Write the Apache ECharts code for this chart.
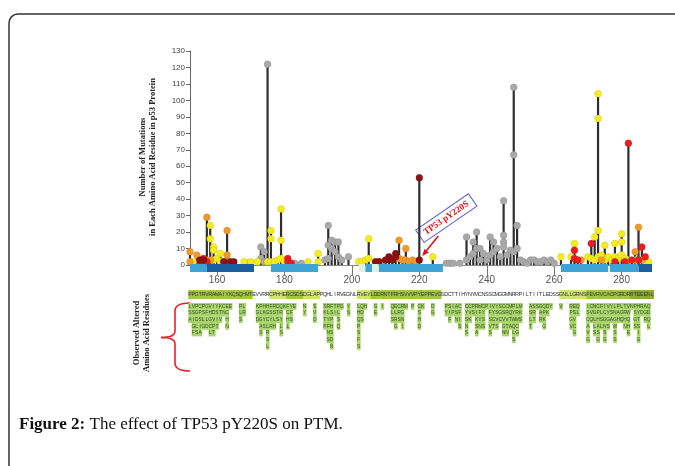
<!DOCTYPE html>
<html>
<head>
<meta charset="utf-8">
<script src="https://cdn.jsdelivr.net/npm/echarts@6/dist/echarts.min.js"></script>
<style>
  html, body { margin: 0; padding: 0; background: #fff; }
  #chart { width: 675px; height: 466px; }
</style>
</head>
<body>
<div id="chart"></div>
<script>
// residue window shown (p53 DNA binding domain)
const xMin = 152, xMax = 289;
const xTicks = [160, 180, 200, 220, 240, 260, 280];
const yMax = 130, yStep = 10;

// mutation counts per residue, one array per colour class  [residue, count]
const grayDots = [
  [169, 1], [173, 11], [173, 4], [174, 8], [174, 2], [175, 122], [175, 2], [183, 1], [185, 1],
  [192, 3], [193, 24], [193, 12], [193, 4], [194, 15], [194, 10], [195, 14], [195, 8], [196, 14], [196, 5],
  [197, 3], [199, 5], [228, 1], [229, 1], [230, 1], [232, 1], [234, 17], [234, 3], [235, 5],
  [236, 14], [236, 7], [237, 20], [237, 10], [238, 10], [238, 3], [239, 7], [240, 3], [241, 17], [241, 6],
  [242, 14], [242, 8], [243, 10], [244, 5], [245, 39], [245, 18], [245, 14], [245, 11], [246, 6], [247, 9],
  [248, 108], [248, 67], [248, 8], [249, 24], [249, 10], [250, 3], [251, 2], [252, 1], [253, 3], [254, 3],
  [255, 2], [256, 2], [257, 3], [258, 2], [259, 3], [260, 1]
];
const yellowDots = [
  [153, 2], [158, 24], [158, 16], [159, 11], [159, 9], [159, 3], [160, 4], [161, 7], [161, 2], [168, 2],
  [170, 2], [172, 2], [175, 2], [176, 21], [176, 16], [176, 2], [177, 2], [178, 3], [179, 34], [179, 15],
  [179, 4], [180, 2], [187, 2], [190, 7], [190, 2], [202, 2], [203, 2], [204, 3], [205, 16], [205, 4],
  [224, 5], [262, 5], [265, 5], [266, 13], [270, 5], [271, 4], [272, 17], [272, 3], [273, 104], [273, 89],
  [273, 21], [273, 5], [274, 6], [275, 12], [275, 3], [276, 5], [277, 3], [278, 13], [278, 5], [279, 4],
  [280, 19], [280, 14], [280, 6], [281, 4], [282, 3], [284, 3], [287, 2], [288, 2]
];
const orangeDots = [
  [152, 8], [152, 2], [154, 6], [157, 29], [157, 3], [158, 3], [162, 2], [163, 21], [163, 6], [163, 2],
  [208, 2], [209, 2], [214, 15], [214, 4], [215, 3], [216, 10], [216, 3], [217, 2], [218, 3], [219, 2],
  [268, 3], [274, 3], [284, 8], [285, 23], [286, 3]
];
const redDots = [
  [155, 2], [156, 4], [157, 2], [181, 4], [181, 2], [182, 1], [266, 9], [266, 4], [267, 3], [271, 13],
  [278, 2], [281, 2], [282, 74], [283, 3], [285, 3], [286, 11], [287, 5]
];
const darkRedDots = [
  [155, 3], [156, 3], [162, 2], [164, 2], [165, 2], [207, 2], [208, 2], [210, 3], [211, 5], [212, 3],
  [213, 7], [213, 5], [220, 53], [220, 3]
];

// structural segments under the axis
const domStart = [152, 157, 176, 202, 204, 206, 208, 262, 276.5, 285];
const domEnd   = [157, 171, 190, 204, 206, 208, 227, 276, 285, 289];
const domKind  = ['strand', 'loop', 'strand', 'pale', 'strand', 'pale', 'strand', 'strand', 'strand', 'loop'];

// p53 residues 152-289
const seqText = 'PPGTRVRAMAIYKQSQHMTEVVRRCPHHERCSDSDGLAPPQHLIRVEGNLRVEYLDDRNTFRHSVVVPYEPPEVGSDCTTIHYNYMCNSSCMGGMNRRPILTIITLEDSSGNLLGRNSFEVRVCACPGRDRRTEEENL';
const hlStart = [152, 176, 181, 186, 202, 206, 262, 270, 283];
const hlEnd   = [171, 181, 186, 191, 206, 227, 270, 283, 289];
const hlKind  = ['dark', 'light', 'dark', 'light', 'light', 'dark', 'light', 'dark', 'deep'];

// observed altered residues at each position (top to bottom)
const altPos = [152, 153, 154, 155, 156, 157, 158, 159, 160, 161, 162, 163, 164, 167, 168,
  172, 173, 174, 175, 176, 177, 178, 179, 180, 181, 182, 183, 186, 189,
  192, 193, 194, 195, 196, 197, 199, 202, 203, 204, 207, 209, 212, 213, 214, 215, 216, 218,
  220, 221, 224, 228, 229, 230, 231, 232, 234, 235, 236, 237, 238, 239, 240, 241, 242, 243, 244,
  245, 246, 247, 248, 249, 250, 253, 254, 255, 256, 257, 258, 259, 262, 265, 266, 267,
  270, 271, 272, 273, 274, 275, 276, 277, 278, 279, 280, 281, 282, 283, 284, 285, 286, 287, 288];
const altSeq = ['LSA', 'VSIGF', 'PGDLS', 'CPSIA', 'PSLG', 'GFLD', 'VHGCL', 'IDVPT', 'YSIT', 'KTV', 'CN', 'ECHN', 'E', 'PLS', 'LR',
  'KGD', 'PLGAS', 'HKYS', 'HGCLRSL', 'FSYR', 'RSLH', 'CTS', 'QRYLS', 'K', 'FCHL', 'YFS', 'E', 'NY', 'SVD',
  'SKTP', 'RLYFNS', 'FSPHSDN', 'TI', 'PLSQ', 'G', 'YS', 'LHQPSFS', 'QDS', 'H', 'GE', 'I', 'QLS', 'ELRG', 'CRS', 'RGNI', 'M', 'P',
  'CSHD', 'K', 'DG', 'PY', 'SIF', 'IP', 'ASN', 'CFIS', 'CYSNS', 'CVK', 'PS', 'RIKSA', 'MFYN', 'CYSS', 'P', 'IFSVS', 'VYCT', 'YSVS', 'SGC',
  'CSVGN', 'CRVTN', 'MQTA', 'PYWQLS', 'LRMCG', 'MKS', 'ASLT', 'SRT', 'S', 'GAR', 'QPKG', 'DK', 'Y', 'V', 'RPGV', 'ESVCG', 'QL',
  'ISCAVG', 'CVQ', 'NGLLS', 'CPHASG', 'FLSL', 'ICGNSG', 'VYGS', 'YSA', 'LNGWSS', 'PAH', 'LGQ', 'TRHN', 'VWQHE', 'N', 'PSGS', 'HYTSIG', 'RD', 'AGR', 'QDQL'];

const dotColors = { gray: '#a9a9a9', yellow: '#f6ec1c', orange: '#f09a2a', red: '#ec1c24', darkred: '#8c1212' };
const domColors = { strand: '#3ea4d6', loop: '#1c5f9f', pale: '#e2f0e4' };
const hlColors = { dark: '#a2c63a', light: '#cfe46c', deep: '#8bab2a' };

// stem height = highest count at each residue
const allDots = [].concat(grayDots, yellowDots, orangeDots, redDots, darkRedDots);
const stemMax = new Map();
allDots.forEach(([p, v]) => stemMax.set(p, Math.max(stemMax.get(p) || 0, v)));
const stems = Array.from(stemMax.entries()).sort((a, b) => a[0] - b[0]);

const seqData = seqText.split('').map((c, i) => [xMin + i, 0]);
function hlFor(pos) {
  for (let i = 0; i < hlStart.length; i++) {
    if (pos >= hlStart[i] && pos < hlEnd[i] + (i === hlStart.length - 1 ? 1 : 0)) return hlColors[hlKind[i]];
  }
  return null;
}
const altCells = [], altChars = [];
altPos.forEach((p, i) => {
  altSeq[i].split('').forEach((c, k) => { altCells.push([p, k]); altChars.push(c); });
});

function dotSeries(name, data, color) {
  return {
    name, type: 'scatter', data, symbolSize: 7, silent: true, z: 4,
    itemStyle: { color, opacity: 1, borderColor: 'rgba(0,0,0,0.15)', borderWidth: 0.5 }
  };
}

const chart = echarts.init(document.getElementById('chart'));
chart.setOption({
  animation: false,
  grid: [
    { left: 190, right: 23, top: 51, height: 214, outerBoundsMode: 'none' },
    { left: 190, right: 23, top: 290, height: 80, outerBoundsMode: 'none' }
  ],
  xAxis: [
    {
      type: 'value', min: xMin, max: xMax, gridIndex: 0,
      axisLine: { lineStyle: { color: '#888', width: 1 } },
      axisTick: { customValues: xTicks, length: 10, lineStyle: { color: '#777' } },
      axisLabel: { customValues: xTicks, fontSize: 10, color: '#555', margin: 10, fontFamily: 'Liberation Sans' },
      splitLine: { show: false }
    },
    { type: 'value', min: xMin, max: xMax, gridIndex: 1, show: false }
  ],
  yAxis: [
    {
      type: 'value', min: 0, max: yMax, interval: yStep, gridIndex: 0,
      axisLine: { show: true, lineStyle: { color: '#666' } },
      axisTick: { show: true, length: 4, lineStyle: { color: '#666' } },
      axisLabel: { fontSize: 8, color: '#444', margin: 5, fontFamily: 'Liberation Sans' },
      splitLine: { show: false }
    },
    { type: 'value', min: 0, max: 12, inverse: true, gridIndex: 1, show: false }
  ],
  series: [
    {
      type: 'custom', name: 'stems', data: stems, z: 3, silent: true,
      renderItem(params, api) {
        const a = api.coord([api.value(0), 0]);
        const b = api.coord([api.value(0), api.value(1)]);
        return { type: 'line', shape: { x1: a[0], y1: a[1], x2: b[0], y2: b[1] },
          style: { stroke: '#2e2e2e', lineWidth: 2.2 } };
      }
    },
    dotSeries('gray', grayDots, dotColors.gray),
    dotSeries('yellow', yellowDots, dotColors.yellow),
    dotSeries('orange', orangeDots, dotColors.orange),
    dotSeries('red', redDots, dotColors.red),
    dotSeries('darkred', darkRedDots, dotColors.darkred),
    {
      type: 'custom', name: 'domains', z: 5, silent: true,
      data: domStart.map((s, i) => [s, 0, domEnd[i]]),
      encode: { x: 0, y: 1 },
      renderItem(params, api) {
        const a = api.coord([api.value(0), 0]);
        const b = api.coord([api.value(2), 0]);
        return { type: 'rect', shape: { x: a[0], y: a[1] - 1, width: b[0] - a[0], height: 8 },
          style: { fill: domColors[domKind[params.dataIndex]] } };
      }
    },
    {
      type: 'custom', name: 'sequence', xAxisIndex: 1, yAxisIndex: 1, silent: true,
      data: seqData,
      renderItem(params, api) {
        const pos = api.value(0);
        const a = api.coord([pos - 0.5, 0]);
        const b = api.coord([pos + 0.5, 1.35]);
        const bg = hlFor(pos);
        const kids = [];
        if (bg) kids.push({ type: 'rect', shape: { x: a[0], y: a[1], width: b[0] - a[0] + 0.3, height: b[1] - a[1] }, style: { fill: bg } });
        kids.push({ type: 'text', style: { text: seqText[params.dataIndex], x: (a[0] + b[0]) / 2, y: (a[1] + b[1]) / 2,
          align: 'center', verticalAlign: 'middle', fontSize: 5.5, fontFamily: 'Liberation Sans', fill: '#333' } });
        return { type: 'group', children: kids };
      }
    },
    {
      type: 'custom', name: 'altered', xAxisIndex: 1, yAxisIndex: 1, silent: true,
      data: altCells,
      renderItem(params, api) {
        const pos = api.value(0), k = api.value(1);
        const a = api.coord([pos - 0.5, 1.95 + k]);
        const b = api.coord([pos + 0.5, 2.9 + k]);
        return { type: 'group', children: [
          { type: 'rect', shape: { x: a[0], y: a[1], width: b[0] - a[0] + 0.3, height: b[1] - a[1] + 0.4 }, style: { fill: '#a9d46c' } },
          { type: 'text', style: { text: altChars[params.dataIndex], x: (a[0] + b[0]) / 2, y: (a[1] + b[1]) / 2,
            align: 'center', verticalAlign: 'middle', fontSize: 5, fontFamily: 'Liberation Sans', fill: '#34521a' } }
        ] };
      }
    }
  ]
});

// red brace beside the altered-residue table
const braceStyle = { fill: 'none', stroke: '#e8202a', lineWidth: 1.6 };
const brace = [
  { type: 'bezierCurve', shape: { x1: 190, y1: 303, cpx1: 175, cpy1: 303, x2: 175, y2: 311 }, style: braceStyle },
  { type: 'line', shape: { x1: 175, y1: 311, x2: 175, y2: 331 }, style: braceStyle },
  { type: 'bezierCurve', shape: { x1: 175, y1: 331, cpx1: 175, cpy1: 337.5, x2: 161, y2: 337.5 }, style: braceStyle },
  { type: 'bezierCurve', shape: { x1: 161, y1: 337.5, cpx1: 175, cpy1: 337.5, x2: 175, y2: 344 }, style: braceStyle },
  { type: 'line', shape: { x1: 175, y1: 344, x2: 175, y2: 363 }, style: braceStyle },
  { type: 'bezierCurve', shape: { x1: 175, y1: 363, cpx1: 175, cpy1: 371, x2: 190, y2: 371 }, style: braceStyle }
];

// annotation anchored to residue 220
const A = chart.convertToPixel({ gridIndex: 0 }, [220, 3]);
chart.setOption({
  graphic: [
    { type: 'rect', shape: { x: 9, y: 14, width: 720, height: 520, r: 9 }, style: { fill: 'none', stroke: '#333', lineWidth: 1.5 }, silent: true },
    {
      type: 'text', x: 148, y: 157, rotation: Math.PI / 2,
      style: { text: 'Number of Mutations\nin Each Amino Acid Residue in p53 Protein', align: 'center', verticalAlign: 'middle',
        font: 'bold 8.5px "Liberation Serif"', lineHeight: 10, fill: '#222' }
    },
    {
      type: 'text', x: 141.5, y: 333, rotation: Math.PI / 2,
      style: { text: 'Observed Altered\nAmino Acid Residues', align: 'center', verticalAlign: 'middle',
        font: 'bold 8.5px "Liberation Serif"', lineHeight: 10, fill: '#222' }
    },
    ...brace,
    {
      type: 'line', shape: { x1: A[0] + 19, y1: A[1] - 24, x2: A[0] + 6, y2: A[1] - 8 },
      style: { stroke: '#e3101a', lineWidth: 1.5 }
    },
    {
      type: 'polygon', shape: { points: [[A[0] + 3, A[1] - 4], [A[0] + 5, A[1] - 11], [A[0] + 9.5, A[1] - 7.5]] },
      style: { fill: '#e3101a' }
    },
    {
      type: 'group', x: A[0] + 27, y: A[1] - 42, rotation: 34.5 * Math.PI / 180,
      children: [
        { type: 'rect', shape: { x: -32, y: -7.5, width: 64, height: 15 }, style: { fill: '#fff', stroke: '#5a5ad2', lineWidth: 1 } },
        { type: 'text', style: { text: 'TP53 pY220S', x: 0, y: 0, align: 'center', verticalAlign: 'middle',
          font: 'bold 9px "Liberation Serif"', fill: '#e3101a' } }
      ]
    },
    {
      type: 'text', x: 19, y: 425,
      style: {
        text: '{b|Figure 2:} The effect of TP53 pY220S on PTM.',
        verticalAlign: 'middle', font: '17px "Liberation Serif"', fill: '#111',
        rich: { b: { fontWeight: 'bold', fontSize: 17, fontFamily: 'Liberation Serif', fill: '#111' } }
      }
    }
  ]
});
</script>
</body>
</html>
